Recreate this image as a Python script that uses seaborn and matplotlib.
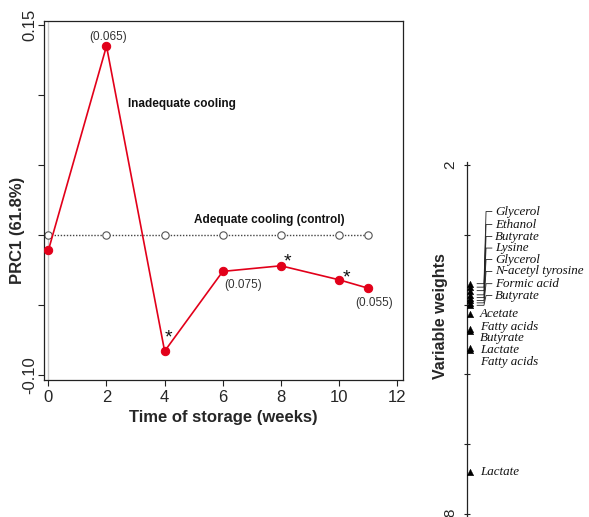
import matplotlib
matplotlib.use("Agg")
import matplotlib.pyplot as plt
import seaborn as sns
import pandas as pd

# ---------------- data ----------------
weeks = [0, 2, 4, 6, 8, 10, 11]
prc_inadequate = [-0.011, 0.135, -0.083, -0.026, -0.022, -0.032, -0.038]
prc_control = [0, 0, 0, 0, 0, 0, 0]

pval_weeks = [2, 6, 11]
pval_text = ["(0.065)", "(0.075)", "(0.055)"]
signif_weeks = [4, 8, 10]

y_ticks = [-0.10, -0.05, 0.00, 0.05, 0.10, 0.15]
y_ticklabels = ["-0.10", "", "", "", "", "0.15"]
x_ticks = [0, 2, 4, 6, 8, 10, 12]

var_names = ["Glycerol", "Ethanol", "Butyrate", "Lysine", "Glycerol",
             "N-acetyl tyrosine", "Formic acid", "Butyrate", "Acetate",
             "Fatty acids", "Butyrate", "Lactate", "Fatty acids", "Lactate"]
var_weights = [-1.40, -1.50, -1.60, -1.72, -1.80, -1.88, -1.95, -2.02,
               -2.26, -2.70, -2.76, -3.24, -3.30, -6.79]
w_ticks = [2, 0, -2, -4, -6, -8]
w_ticklabels = ["2", "", "", "", "", "-8"]

# ---------------- layout (label placement, not data) ----------------
label_pos = [0.667, 0.295, -0.05, -0.38, -0.71, -1.05, -1.40, -1.74,
             -2.26, -2.63, -2.96, -3.30, -3.64, -6.79]
has_leader = [True] * 8 + [False] * 6
sig_offsets = [(3, 9.5), (4.5, 2.5), (5.5, 1.5)]
pval_offsets = [(1.5, 6.5), (15, -10), (4.5, -10.5)]

RED = "#E2001A"

sns.set_style("ticks")
plt.rcParams["font.family"] = ["Liberation Sans", "DejaVu Sans"]

W, H = 589, 517
fig = plt.figure(figsize=(W / 100, H / 100), dpi=100)

# ---------------- left panel ----------------
ax1 = fig.add_axes([44 / W, 1 - 380 / H, 359 / W, 359 / H])
ax1.axvline(0, color="#c8c8c8", lw=1.0, zorder=0)

df_ctrl = pd.DataFrame({"week": weeks, "prc": prc_control})
df_inad = pd.DataFrame({"week": weeks, "prc": prc_inadequate})
sns.lineplot(data=df_ctrl, x="week", y="prc", ax=ax1, color="#444444",
             linestyle=(0, (1, 1.2)), linewidth=1.0, marker="o", markersize=5.3,
             markerfacecolor="white", markeredgecolor="#555555",
             markeredgewidth=0.8, zorder=2)
sns.lineplot(data=df_inad, x="week", y="prc", ax=ax1, color=RED,
             linewidth=1.2, marker="o", markersize=6, markeredgecolor=RED,
             markerfacecolor=RED, zorder=3)

ax1.set_xlim(-0.15, 12.2)
ax1.set_ylim(-0.1036, 0.1529)
ax1.set_xticks(x_ticks)
ax1.set_xticklabels([str(t) for t in x_ticks])
ax1.set_yticks(y_ticks)
ax1.set_yticklabels(y_ticklabels, rotation=90, va="center")
ax1.tick_params(axis="both", direction="out", length=4, width=0.8,
                labelsize=12, color="#222222")
ax1.tick_params(axis="y", pad=1)
ax1.tick_params(axis="x", pad=3)
for s in ax1.spines.values():
    s.set_color("#222222")
    s.set_linewidth(0.9)
ax1.set_xlabel("Time of storage (weeks)", fontsize=12, fontweight="bold",
               labelpad=4)
ax1.set_ylabel("PRC1 (61.8%)", fontsize=12, fontweight="bold", va="center")
ax1.yaxis.set_label_coords((18 - 44) / 359, (380 - 230) / 359)

ax1.text(2.74, 0.0934, "Inadequate cooling", fontsize=8.5, fontweight="bold",
         ha="left", va="center", color="#111111")
ax1.text(5.0, 0.0107, "Adequate cooling (control)", fontsize=8.5,
         fontweight="bold", ha="left", va="center", color="#111111")

wk_to_val = dict(zip(weeks, prc_inadequate))
for wk, txt, off in zip(pval_weeks, pval_text, pval_offsets):
    ax1.annotate(txt, (wk, wk_to_val[wk]), xytext=off,
                 textcoords="offset points", ha="center", va="center",
                 fontsize=8.5, color="#333333")
for wk, off in zip(signif_weeks, sig_offsets):
    ax1.annotate("*", (wk, wk_to_val[wk]), xytext=off,
                 textcoords="offset points", ha="center", va="center",
                 fontsize=14, color="#111111")

# ---------------- right panel ----------------
ax2 = fig.add_axes([467 / W, 0, 122 / W, (H - 162) / H])
ax2.set_xlim(0, 1)
ax2.set_ylim(-8.086, 2.086)
for side in ["top", "right", "bottom"]:
    ax2.spines[side].set_visible(False)
ax2.spines["left"].set_color("#222222")
ax2.spines["left"].set_linewidth(0.9)
ax2.set_xticks([])
ax2.set_yticks(w_ticks)
ax2.set_yticklabels(w_ticklabels, rotation=90, va="center")
ax2.tick_params(axis="y", direction="inout", length=5, width=0.8,
                labelsize=11, pad=4.5, color="#222222")
ax2.set_ylabel("Variable weights", fontsize=11.5, fontweight="bold",
               va="center")
ax2.yaxis.set_label_coords((441 - 467) / 122, (H - 316) / (H - 162))

df_w = pd.DataFrame({"x": [0.028] * len(var_weights), "w": var_weights})
sns.scatterplot(data=df_w, x="x", y="w", ax=ax2, marker="^", s=22,
                color="black", edgecolor="black", linewidth=0.3, zorder=3,
                clip_on=False)
ax2.set_xlabel("")

for name, w, lp, lead in zip(var_names, var_weights, label_pos, has_leader):
    if lead:
        ax2.plot([0.082, 0.139, 0.156, 0.205], [w, w, lp, lp],
                 color="#222222", lw=0.6, zorder=2)
        ax2.text(0.232, lp, name, fontsize=9.4, family="Liberation Serif",
                 style="italic", ha="left", va="center", color="#111111")
    else:
        ax2.text(0.107, lp, name, fontsize=9.4, family="Liberation Serif",
                 style="italic", ha="left", va="center", color="#111111")

fig.savefig("out.png", dpi=100)
